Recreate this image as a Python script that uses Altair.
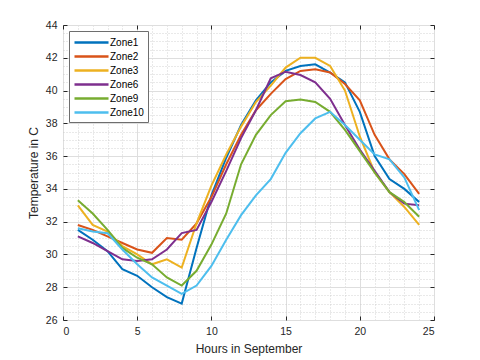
import altair as alt
import pandas as pd

hours = list(range(1, 25))
zones = ["Zone1", "Zone2", "Zone3", "Zone6", "Zone9", "Zone10"]
colors = ["#0072BD", "#D95319", "#EDB120", "#7E2F8E", "#77AC30", "#4DBEEE"]

zone1 = [31.5, 30.9, 30.2, 29.1, 28.7, 28.0, 27.4, 27.0, 30.4, 33.6, 35.9, 37.9,
         39.4, 40.5, 41.2, 41.5, 41.6, 41.1, 40.5, 38.7, 36.0, 34.6, 34.0, 33.2]
zone2 = [31.8, 31.5, 31.1, 30.7, 30.3, 30.1, 31.0, 30.9, 31.9, 33.5, 35.5, 37.3,
         38.8, 39.8, 40.7, 41.2, 41.3, 41.1, 40.4, 39.4, 37.3, 35.8, 34.9, 33.7]
zone3 = [33.0, 31.8, 31.4, 30.5, 30.0, 29.4, 29.7, 29.2, 31.9, 34.2, 36.1, 37.8,
         39.3, 40.3, 41.4, 42.0, 42.0, 41.5, 40.0, 37.2, 35.0, 33.8, 32.9, 31.8]
zone6 = [31.1, 30.7, 30.2, 29.7, 29.6, 29.7, 30.3, 31.3, 31.5, 33.2, 35.1, 37.1,
         38.8, 40.75, 41.15, 40.95, 40.5, 39.5, 37.9, 36.4, 35.1, 33.8, 33.1, 33.0]
zone9 = [33.3, 32.5, 31.5, 30.4, 29.8, 29.4, 28.6, 28.1, 29.0, 30.6, 32.5, 35.5,
         37.3, 38.5, 39.35, 39.45, 39.3, 38.7, 37.6, 36.3, 35.0, 33.8, 33.2, 32.3]
zone10 = [31.6, 31.4, 31.3, 30.3, 29.4, 28.6, 28.1, 27.6, 28.1, 29.3, 30.9, 32.4,
          33.6, 34.6, 36.2, 37.4, 38.3, 38.7, 37.9, 37.0, 36.1, 35.8, 34.7, 32.7]
series = [zone1, zone2, zone3, zone6, zone9, zone10]

x_major = [0, 5, 10, 15, 20, 25]
y_major = list(range(26, 45, 2))
x_minor = list(range(0, 26))
y_minor = [26 + 0.5 * i for i in range(37)]

rows = []
for z, vals in zip(zones, series):
    for h, v in zip(hours, vals):
        rows.append({"hour": h, "temp": v, "zone": z})
df = pd.DataFrame(rows)

xs = alt.Scale(domain=[0, 25], nice=False, zero=False)
ys = alt.Scale(domain=[26, 44], nice=False, zero=False)
FONT = "Liberation Sans"
TXT = "#262626"

def blank_axis(**kw):
    base = dict(labels=False, domain=False, title=None)
    base.update(kw)
    return alt.Axis(**base)

base = alt.Chart(df)

minor = base.mark_line(strokeOpacity=0).encode(
    x=alt.X("hour:Q", scale=xs, axis=blank_axis(orient="bottom", values=x_minor, ticks=False,
                                                 grid=True, gridDash=[1, 2], gridColor="#c8c8c8", gridWidth=0.8)),
    y=alt.Y("temp:Q", scale=ys, axis=blank_axis(orient="left", values=y_minor, ticks=False,
                                                 grid=True, gridDash=[1, 2], gridColor="#c8c8c8", gridWidth=0.8)),
    detail="zone:N",
)

ticks_in = base.mark_line(strokeOpacity=0).encode(
    x=alt.X("hour:Q", scale=xs, axis=blank_axis(orient="bottom", values=x_major, ticks=True, tickSize=4,
                                                 offset=-4, grid=False, tickColor=TXT)),
    y=alt.Y("temp:Q", scale=ys, axis=blank_axis(orient="left", values=y_major, ticks=True, tickSize=4,
                                                 offset=-4, grid=False, tickColor=TXT)),
    detail="zone:N",
)

ticks_in2 = base.mark_line(strokeOpacity=0).encode(
    x=alt.X("hour:Q", scale=xs, axis=blank_axis(orient="top", values=x_major, ticks=True, tickSize=4,
                                                 offset=-4, grid=False, tickColor=TXT)),
    y=alt.Y("temp:Q", scale=ys, axis=blank_axis(orient="right", values=y_major, ticks=True, tickSize=4,
                                                 offset=-4, grid=False, tickColor=TXT)),
    detail="zone:N",
)

lines = base.mark_line(strokeWidth=2).encode(
    x=alt.X("hour:Q", scale=xs, axis=alt.Axis(
        orient="bottom", values=x_major, grid=True, gridColor="#dedede", ticks=False,
        domain=False, labelPadding=6, labelFontSize=10.5, labelColor=TXT, labelFont=FONT,
        title="Hours in September", titleFont=FONT, titleFontSize=12, titleFontWeight="normal",
        titleColor=TXT, titlePadding=7)),
    y=alt.Y("temp:Q", scale=ys, axis=alt.Axis(
        orient="left", values=y_major, grid=True, gridColor="#dedede", ticks=False,
        domain=False, labelPadding=6, labelFontSize=10.5, labelColor=TXT, labelFont=FONT,
        title="Temperature in C", titleFont=FONT, titleFontSize=12, titleFontWeight="normal",
        titleColor=TXT, titlePadding=5)),
    color=alt.Color("zone:N", scale=alt.Scale(domain=zones, range=colors), sort=zones,
                    legend=alt.Legend(
                        orient="top-left", offset=6, title=None,
                        symbolType="M-1,0H4.67", symbolStrokeWidth=2.5, symbolSize=144,
                        symbolFillColor="transparent",
                        labelFont=FONT, labelFontSize=10, labelOffset=22,
                        labelColor="#000000", fillColor="white", strokeColor="#6e6e6e",
                        padding=4, rowPadding=1)),
)

chart = alt.layer(minor, ticks_in, ticks_in2, lines).resolve_axis(
    x="independent", y="independent"
).properties(
    width=371, height=295,
    autosize=alt.AutoSizeParams(type="none"),
    padding={"left": 55, "top": 17, "right": 30, "bottom": 40},
).configure_view(stroke="#6e6e6e", strokeWidth=1)

chart.save("out.html", embed_options={"renderer": "svg", "actions": False})
